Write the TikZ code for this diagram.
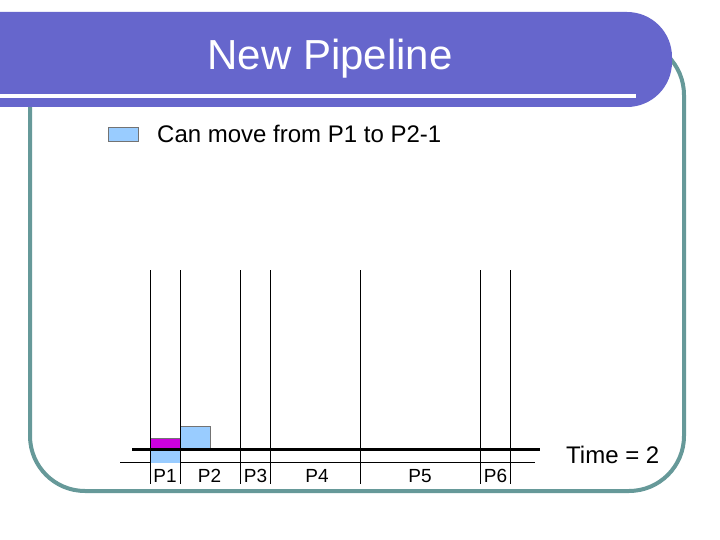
\documentclass[tikz,border=0pt]{standalone}
\usepackage{fontspec}
\setmainfont{Liberation Sans}
\definecolor{banner}{RGB}{102,102,204}
\definecolor{frameteal}{RGB}{102,153,153}
\definecolor{lightblue}{RGB}{153,204,255}
\definecolor{purplebox}{RGB}{204,0,221}
\tikzset{
  frameline/.style={draw=frameteal, line width=4pt},
  stage/.style={draw=black, line width=0.9pt},
  plabel/.style={font=\fontsize{19}{21}\selectfont, inner sep=0pt, anchor=base},
  blockblue/.style={fill=lightblue, draw=black!55, line width=0.5pt},
  blockpurple/.style={fill=purplebox, draw=black!55, line width=0.5pt},
}
\begin{document}
\begin{tikzpicture}[x=1pt, y=-1pt]
\useasboundingbox[fill=white] (0,0) rectangle (720,540);
% frame
\draw[frameline, rounded corners=55pt] (30,40) rectangle (684,491);
% banner
\fill[banner, rounded corners=45pt] (-60,12) rectangle (672,107);
\draw[white, line width=3.5pt] (0,96) -- (636,96);
\node[text=white, font=\fontsize{42}{46}\selectfont, inner sep=0pt] (title) at (330,58.5) {New Pipeline};
% legend
\node[blockblue, minimum width=30pt, minimum height=14pt, inner sep=0pt, anchor=north west] (legendbox) at (108,127) {};
\node[font=\fontsize{24}{28}\selectfont, inner sep=0pt, anchor=west] (legendtext) at (157,134) {Can move from P1 to P2-1};
% stage lines
\foreach \x in {150.5,180.5,240.5,270.5,360.5,480.5,510.5}
  \draw[stage] (\x,270) -- (\x,484);
% horizontal lines
\draw[black, line width=1pt] (120,462.5) -- (535,462.5);
% blocks
\fill[lightblue] (150.5,449.5) rectangle (180.5,462.5);
\draw[blockpurple] (150.5,438) rectangle (180.5,449.5);
\draw[blockblue] (180.5,426) rectangle (210,449.5);
\draw[stage] (150.5,436) -- (150.5,484);
\draw[stage] (180.5,420) -- (180.5,484);
\draw[black, line width=2.6pt] (132,449.5) -- (540,449.5);
% labels
\node[plabel] (p1) at (165,482) {P1};
\node[plabel] (p2) at (209.5,482) {P2};
\node[plabel] (p3) at (255.5,482) {P3};
\node[plabel] (p4) at (317,482) {P4};
\node[plabel] (p5) at (420,482) {P5};
\node[plabel] (p6) at (495.5,482) {P6};
\node[font=\fontsize{24}{27}\selectfont, inner sep=0pt, anchor=west] (time) at (566,455) {Time = 2};
\end{tikzpicture}
\end{document}
